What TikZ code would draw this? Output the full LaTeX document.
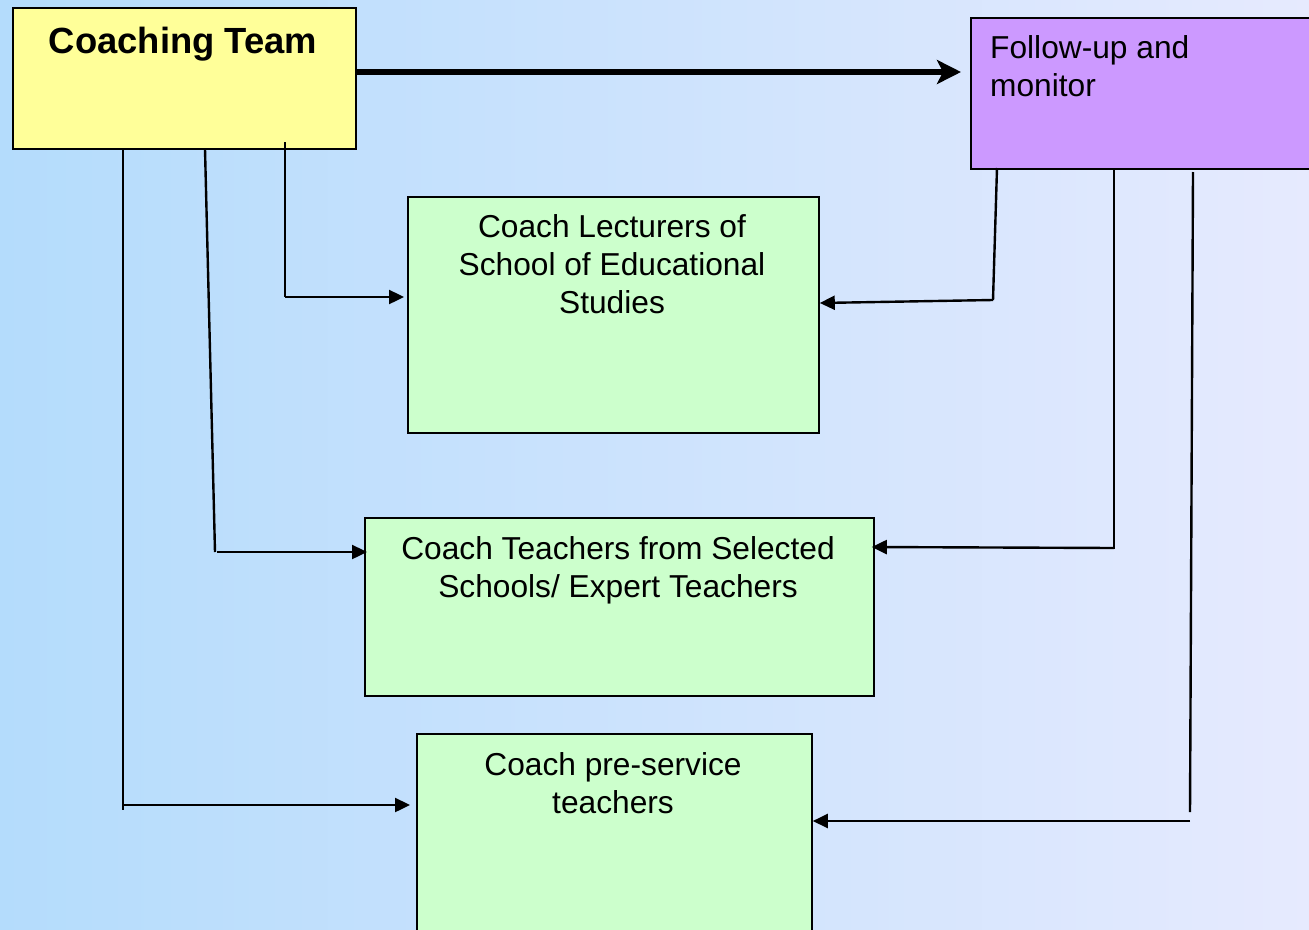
\documentclass[tikz,border=0pt]{standalone}
\usepackage{fontspec}
\setmainfont{Liberation Sans}
\usetikzlibrary{arrows.meta}
\definecolor{bgleft}{RGB}{180,220,252}
\definecolor{bgmid}{RGB}{214,232,254}
\definecolor{bgright}{RGB}{230,234,254}
\definecolor{yel}{RGB}{255,255,153}
\definecolor{purp}{RGB}{204,153,255}
\definecolor{grn}{RGB}{204,255,204}
\tikzset{
  boxstyle/.style={draw=black, line width=1.8pt, rectangle, inner sep=0pt, anchor=north west},
  txt/.style={font=\fontsize{31.7}{38}\selectfont, anchor=base, inner sep=0pt},
  txtl/.style={font=\fontsize{31.7}{38}\selectfont, anchor=base west, inner sep=0pt},
  conn/.style={line width=2.4pt, black},
  arr/.style={line width=2.4pt, black, -{Triangle[length=15pt,width=14pt]}},
  bigarr/.style={line width=6pt, black, -{Stealth[length=24pt,width=24pt,inset=6pt]}}
}
\begin{document}
\begin{tikzpicture}[x=1pt,y=-1pt]
\useasboundingbox (0,0) rectangle (1309,929);
\clip (0,0) rectangle (1309,929);
\shade[left color=bgleft, middle color=bgmid, right color=bgright] (0,0) rectangle (1309,929);
% boxes
\node[boxstyle, fill=yel, minimum width=343pt, minimum height=141pt] (ct) at (12,7) {};
\node[boxstyle, fill=purp, minimum width=380pt, minimum height=151pt] (fu) at (970,17) {};
\node[boxstyle, fill=grn, minimum width=411pt, minimum height=236pt] (b1) at (407,196) {};
\node[boxstyle, fill=grn, minimum width=509pt, minimum height=178pt] (b2) at (364,517) {};
\node[boxstyle, fill=grn, minimum width=395pt, minimum height=240pt] (b3) at (416,733) {};
% texts
\node[anchor=base, inner sep=0pt, font=\fontsize{36.4}{44}\selectfont\bfseries] (t0) at (183,53) {Coaching Team};
\node[txtl] (t1) at (990,58.5) {Follow-up and};
\node[txtl] (t2) at (990,96.5) {monitor};
\node[txt] (t3) at (612,237) {Coach Lecturers of};
\node[txt] (t4) at (612,275) {School of Educational};
\node[txt] (t5) at (612,313) {Studies};
\node[txt] (t6) at (618,559) {Coach Teachers from Selected};
\node[txt] (t7) at (618,597) {Schools/ Expert Teachers};
\node[txt] (t8) at (613,775) {Coach pre-service};
\node[txt] (t9) at (613,813) {teachers};
% thick arrow
\draw[bigarr] (ct.east |- 0,72) -- ([xshift=-9pt]fu.west |- 0,72);
% left connectors
\coordinate (a0) at (285,142); \coordinate (a1) at (285,297);
\coordinate (bb0) at (205,149); \coordinate (bb1) at (215,552); \coordinate (bb2) at (217,552);
\coordinate (c0) at (123,149); \coordinate (c1) at (123,810); \coordinate (c2) at (123,805);
\draw[conn] (a0) -- (a1);
\draw[arr] (a1) -- ([xshift=-3pt]b1.west |- a1);
\draw[conn] (bb0) -- (bb1);
\draw[arr] (bb2) -- ([xshift=3pt]b2.west |- bb2);
\draw[conn] (c0) -- (c1);
\draw[arr] (c2) -- ([xshift=-6pt]b3.west |- c2);
% right connectors
\coordinate (d0) at (997,168); \coordinate (d1) at (993,300);
\coordinate (e0) at (1114,168); \coordinate (e1) at (1114,549); \coordinate (e2) at (1114,548);
\coordinate (f0) at (1193,172); \coordinate (f1) at (1190,812); \coordinate (f2) at (1190,821);
\draw[conn] (d0) -- (d1);
\draw[arr] (d1) -- (b1.east |- 0,303);
\draw[conn] (e0) -- (e1);
\draw[arr] (e2) -- ([xshift=-3pt]b2.east |- 0,547);
\draw[conn] (f0) -- (f1);
\draw[arr] (f2) -- (b3.east |- f2);
\end{tikzpicture}
\end{document}
